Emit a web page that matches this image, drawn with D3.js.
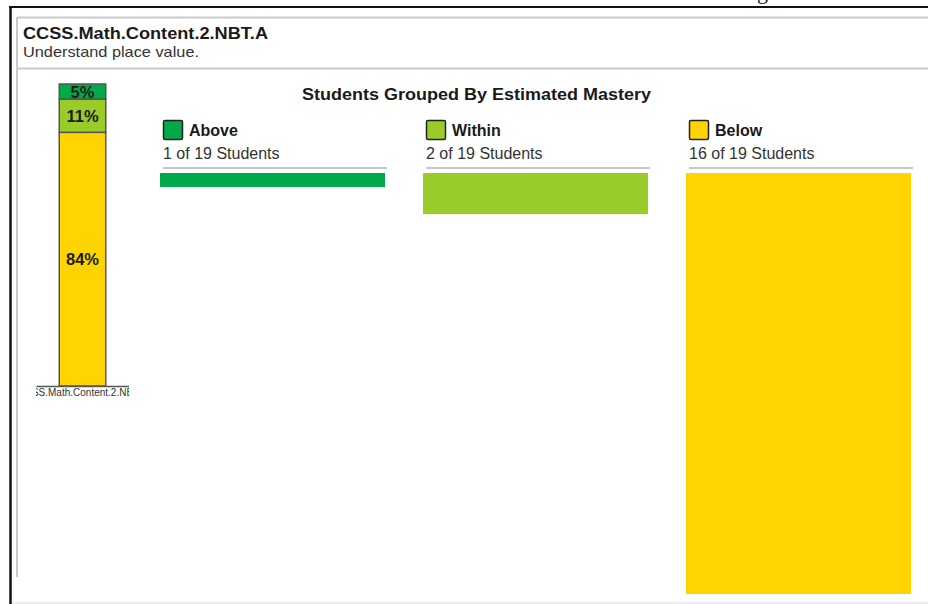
<!DOCTYPE html>
<html>
<head>
<meta charset="utf-8">
<script src="https://cdn.jsdelivr.net/npm/d3@7"></script>
<style>
  html, body { margin: 0; padding: 0; background: #fff; }
  svg { display: block; font-family: "Liberation Sans", Arial, sans-serif; }
</style>
</head>
<body>
<svg id="chart" width="928" height="604"></svg>
<script>
// ---- data ----
const standardCode = "CCSS.Math.Content.2.NBT.A";
const standardDesc = "Understand place value.";
const panelTitle = "Students Grouped By Estimated Mastery";
const categories = ["Above", "Within", "Below"];
const studentCounts = [1, 2, 16];
const totalStudents = 19;
const percentLabels = [5, 11, 84];
const colors = ["#00aa48", "#99cc29", "#ffd400"];

// ---- setup ----
const svg = d3.select("#chart");

// outer frame (black)
svg.append("line").attr("x1", 9).attr("x2", 928).attr("y1", 7).attr("y2", 7)
  .attr("stroke", "#111").attr("stroke-width", 2.2);
svg.append("line").attr("x1", 10.5).attr("x2", 10.5).attr("y1", 6).attr("y2", 604)
  .attr("stroke", "#111").attr("stroke-width", 2.5);
// clipped descender from text above the frame
svg.append("text").attr("x", 757).attr("y", -1).attr("font-family", "Liberation Serif")
  .attr("font-size", 22).attr("fill", "#222").text("g");

// inner panel (gray)
svg.append("line").attr("x1", 17).attr("x2", 928).attr("y1", 17.5).attr("y2", 17.5)
  .attr("stroke", "#c9c9c9").attr("stroke-width", 2);
svg.append("line").attr("x1", 17).attr("x2", 17).attr("y1", 17).attr("y2", 577)
  .attr("stroke", "#c9c9c9").attr("stroke-width", 2);
svg.append("line").attr("x1", 17).attr("x2", 928).attr("y1", 68.5).attr("y2", 68.5)
  .attr("stroke", "#c9c9c9").attr("stroke-width", 2);
svg.append("line").attr("x1", 12).attr("x2", 928).attr("y1", 603).attr("y2", 603)
  .attr("stroke", "#e6e6e6").attr("stroke-width", 1.5);

// header text
svg.append("text").attr("x", 23).attr("y", 39).attr("font-size", 16)
  .attr("font-weight", "bold").attr("fill", "#1a1a1a")
  .attr("textLength", 245).attr("lengthAdjust", "spacingAndGlyphs").text(standardCode);
svg.append("text").attr("x", 23).attr("y", 57).attr("font-size", 14.5)
  .attr("fill", "#333")
  .attr("textLength", 176).attr("lengthAdjust", "spacingAndGlyphs").text(standardDesc);

// ---- stacked percentage bar ----
const xStack = d3.scaleBand().domain([standardCode]).range([36, 129]).paddingInner(0.5).paddingOuter(0.24);
const yStack = d3.scaleLinear().domain([0, 100]).range([386, 84]);

// order from bottom: Below, Within, Above
const stackData = categories.map((c, i) => ({ cat: c, pct: percentLabels[i], color: colors[i] })).reverse();
let acc = 0;
stackData.forEach(d => { d.y0 = acc; acc += d.pct; d.y1 = acc; });

const stackG = svg.append("g");
stackG.selectAll("rect").data(stackData).join("rect")
  .attr("x", xStack(standardCode))
  .attr("width", xStack.bandwidth())
  .attr("y", d => yStack(d.y1))
  .attr("height", d => yStack(d.y0) - yStack(d.y1))
  .attr("fill", d => d.color)
  .attr("stroke", "#555").attr("stroke-width", 1.5);
stackG.selectAll("text").data(stackData).join("text")
  .attr("x", xStack(standardCode) + xStack.bandwidth() / 2)
  .attr("y", d => (yStack(d.y0) + yStack(d.y1)) / 2 + 6)
  .attr("text-anchor", "middle")
  .attr("font-size", 16.5).attr("font-weight", "bold").attr("fill", "#1a1a1a")
  .text(d => d.pct + "%");

// axis
const clip = svg.append("defs").append("clipPath").attr("id", "axclip");
clip.append("rect").attr("x", 36).attr("y", -6).attr("width", 93).attr("height", 30);
const axisG = svg.append("g").attr("transform", "translate(0,386)").attr("clip-path", "url(#axclip)")
  .call(d3.axisBottom(xStack).tickSize(0).tickPadding(3));
axisG.select(".domain").attr("stroke", "#555").attr("stroke-width", 1.5);
axisG.selectAll("text").attr("font-size", 10).attr("font-family", "Liberation Sans").attr("fill", "#333");

// ---- grouped columns ----
svg.append("text").attr("x", 476.5).attr("y", 100).attr("text-anchor", "middle")
  .attr("font-size", 16.5).attr("font-weight", "bold").attr("fill", "#1a1a1a")
  .attr("textLength", 349).attr("lengthAdjust", "spacingAndGlyphs").text(panelTitle);

const xCol = d3.scaleBand().domain(categories).range([160, 911]).paddingInner(0.1445);
const hScale = d3.scaleLinear().domain(d3.extent(studentCounts)).range([14, 421]);

const groups = categories.map((c, i) => ({ cat: c, count: studentCounts[i], color: colors[i] }));
const colG = svg.selectAll("g.col").data(groups).join("g").attr("class", "col")
  .attr("transform", d => `translate(${xCol(d.cat)},0)`);

colG.append("rect").attr("x", 3.5).attr("y", 120.5).attr("width", 19).attr("height", 19)
  .attr("rx", 1.5).attr("fill", d => d.color).attr("stroke", "#222").attr("stroke-width", 1.5);
colG.append("text").attr("x", 29).attr("y", 136).attr("font-size", 16).attr("font-weight", "bold")
  .attr("fill", "#1a1a1a").text(d => d.cat);
colG.append("text").attr("x", 3).attr("y", 159).attr("font-size", 16).attr("fill", "#333")
  .text(d => `${d.count} of ${totalStudents} Students`);
colG.append("line").attr("x1", 3).attr("x2", xCol.bandwidth() + 2).attr("y1", 168).attr("y2", 168)
  .attr("stroke", "#c8c8c8").attr("stroke-width", 2);
colG.append("rect").attr("x", 0).attr("y", 173).attr("width", xCol.bandwidth())
  .attr("height", d => hScale(d.count)).attr("fill", d => d.color);
</script>
</body>
</html>
